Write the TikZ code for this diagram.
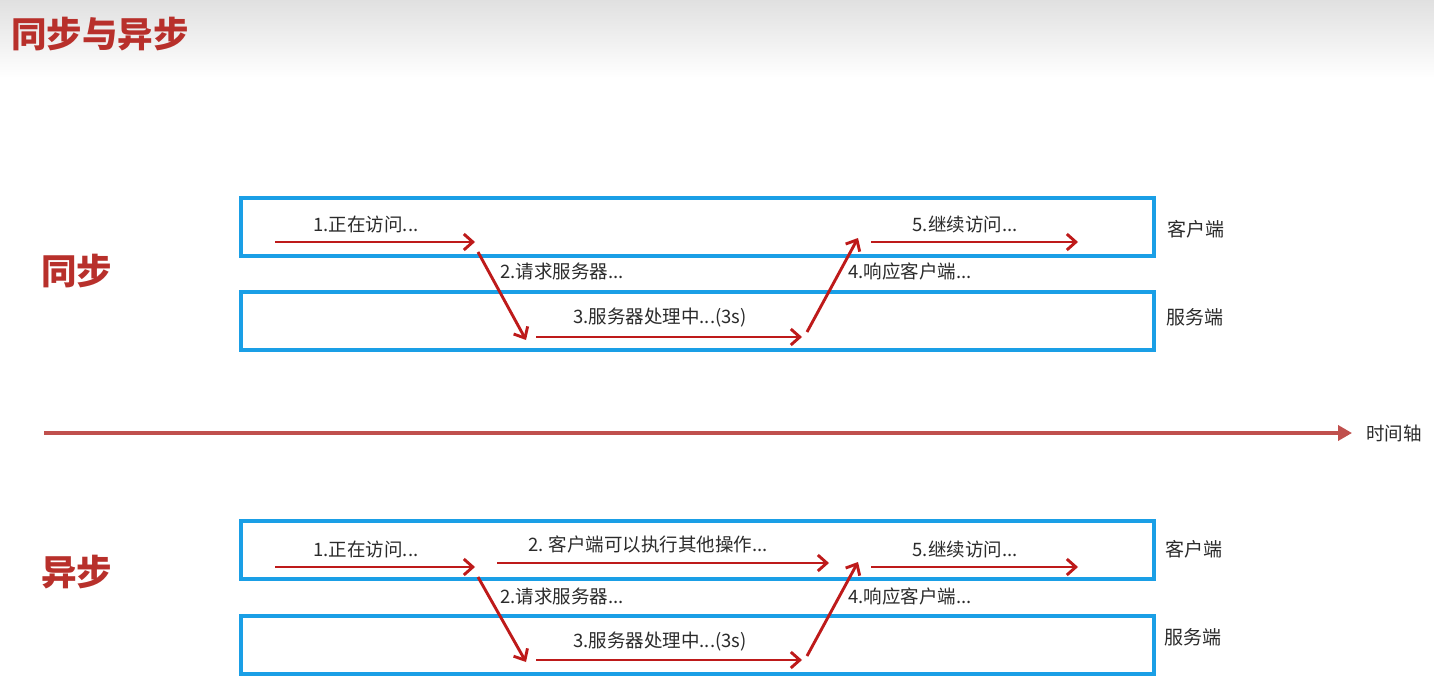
\documentclass[tikz,border=0pt]{standalone}
\usepackage{fontspec}
\setmainfont{Noto Sans CJK SC}
\usetikzlibrary{arrows.meta}
\definecolor{boxblue}{HTML}{1A9FE6}
\definecolor{arrred}{HTML}{BE1A1A}
\definecolor{titlered}{HTML}{B8302B}
\definecolor{axisred}{HTML}{C0504D}
\definecolor{txt}{HTML}{2B2B2B}
\tikzset{
  lane/.style={draw=boxblue, line width=3.8pt, minimum width=913pt, minimum height=58pt, anchor=north west, inner sep=0pt},
  flow/.style={draw=arrred, line width=2.9pt, -{Straight Barb[length=9pt,width=16pt,line width=2.9pt]}},
  lbl/.style={text=txt, font=\fontsize{18.5}{20}\selectfont, inner sep=0pt},
  side/.style={text=txt, font=\fontsize{19}{21}\selectfont, inner sep=0pt, anchor=west},
  big/.style={text=titlered, font=\fontsize{35.5}{38}\selectfont\bfseries, inner sep=0pt, anchor=west},
}
\begin{document}
\begin{tikzpicture}[x=1pt,y=-1pt]
\useasboundingbox (0,0) rectangle (1434,687);
\fill[white] (0,0) rectangle (1434,687);
\shade[top color=black!12, bottom color=white] (0,0) rectangle (1434,78);
\node[big] (title) at (11,34) {同步与异步};

% ---------- synchronous ----------
\node[big] (sync) at (41,271) {同步};
\node[lane] (sc) at (239,196) {};
\node[lane] (ss) at (239,290) {};
\node[side] (scl) at (1167,229) {客户端};
\node[side] (ssl) at (1166,317) {服务端};

\coordinate (a1s) at (275,242); \coordinate (a1e) at (475,242);
\coordinate (a2s) at (478,252); \coordinate (a2e) at (526,340);
\coordinate (a3s) at (536,337); \coordinate (a3e) at (802,337);
\coordinate (a4s) at (807,332); \coordinate (a4e) at (858,238);
\coordinate (a5s) at (871,242); \coordinate (a5e) at (1078,242);
\draw[flow] (a1s) -- (a1e);
\draw[flow] (a2s) -- (a2e);
\draw[flow] (a3s) -- (a3e);
\draw[flow] (a4s) -- (a4e);
\draw[flow] (a5s) -- (a5e);
\node[lbl] (l1) at (366,224) {1.正在访问...};
\node[lbl,anchor=west] (l2) at (500,271) {2.请求服务器...};
\node[lbl] (l3) at (660,318) {3.服务器处理中...(3s)};
\node[lbl,anchor=west] (l4) at (848,271) {4.响应客户端...};
\node[lbl] (l5) at (965,224) {5.继续访问...};

% ---------- time axis ----------
\coordinate (ts) at (44,433); \coordinate (te) at (1352,433);
\draw[draw=axisred, line width=3.6pt, -{Triangle[length=14pt,width=15pt]}] (ts) -- (te);
\node[side, font=\fontsize{18.5}{20}\selectfont] (tl) at (1366,433) {时间轴};

% ---------- asynchronous ----------
\node[big] (async) at (41,572) {异步};
\node[lane] (ac) at (239,519) {};
\node[lane] (as) at (239,614) {};
\node[side] (acl) at (1165,549) {客户端};
\node[side] (asl) at (1164,637) {服务端};

\coordinate (b1s) at (275,567); \coordinate (b1e) at (475,567);
\coordinate (bxs) at (497,563); \coordinate (bxe) at (829,563);
\coordinate (b2s) at (478,577); \coordinate (b2e) at (526,662);
\coordinate (b3s) at (536,660); \coordinate (b3e) at (802,660);
\coordinate (b4s) at (807,656); \coordinate (b4e) at (858,562);
\coordinate (b5s) at (871,567); \coordinate (b5e) at (1078,567);
\draw[flow] (b1s) -- (b1e);
\draw[flow] (bxs) -- (bxe);
\draw[flow] (b2s) -- (b2e);
\draw[flow] (b3s) -- (b3e);
\draw[flow] (b4s) -- (b4e);
\draw[flow] (b5s) -- (b5e);
\node[lbl] (m1) at (366,549) {1.正在访问...};
\node[lbl] (mx) at (648,544) {2. 客户端可以执行其他操作...};
\node[lbl,anchor=west] (m2) at (500,596) {2.请求服务器...};
\node[lbl] (m3) at (660,642) {3.服务器处理中...(3s)};
\node[lbl,anchor=west] (m4) at (848,596) {4.响应客户端...};
\node[lbl] (m5) at (965,549) {5.继续访问...};
\end{tikzpicture}
\end{document}
